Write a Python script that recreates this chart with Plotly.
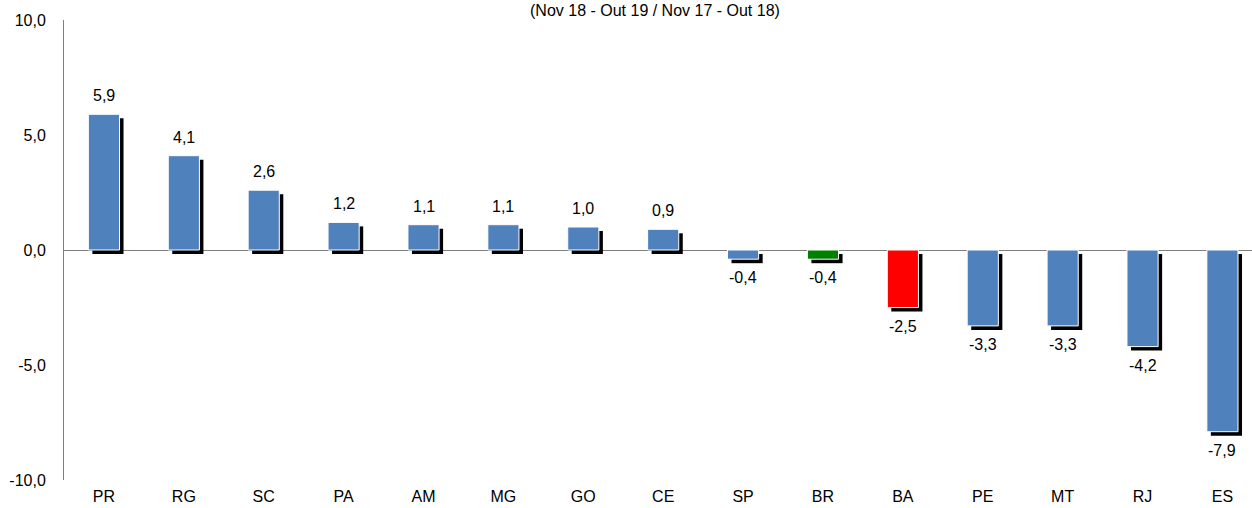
import plotly.graph_objects as go

# Variação por UF
states = ["PR", "RG", "SC", "PA", "AM", "MG", "GO", "CE", "SP", "BR", "BA", "PE", "MT", "RJ", "ES"]
values = [5.9, 4.1, 2.6, 1.2, 1.1, 1.1, 1.0, 0.9, -0.4, -0.4, -2.5, -3.3, -3.3, -4.2, -7.9]
colors = ["#4F81BD"] * 8 + ["#4F81BD", "#008000", "#FF0000"] + ["#4F81BD"] * 4
subtitle = "(Nov 18 - Out 19 / Nov 17 - Out 18)"
y_ticks = [-10, -5, 0, 5, 10]
y_ticktext = ["-10,0", "-5,0", "0,0", "5,0", "10,0"]

W, H = 1252, 508
M_L, M_R, M_T, M_B = 64, 0, 20, 28
Y_MIN, Y_MAX = -10, 10
X_MIN, X_MAX = -0.5, 14.37
BAR_W = 0.39

plot_h = H - M_T - M_B
plot_w = W - M_L - M_R
px_y = plot_h / (Y_MAX - Y_MIN)
px_x = plot_w / (X_MAX - X_MIN)
shadow_px = 4
dy = shadow_px / px_y
dx = shadow_px / px_x

FONT = "Liberation Sans, Arial, sans-serif"

fig = go.Figure()

# drop shadow behind each bar
fig.add_trace(go.Bar(
    x=states, y=values, base=[-dy] * len(values),
    width=BAR_W, offset=-BAR_W / 2 + dx,
    marker=dict(color="black", line=dict(width=0)),
    hoverinfo="skip", showlegend=False,
))
fig.add_trace(go.Bar(
    x=states, y=values,
    width=BAR_W, offset=-BAR_W / 2,
    marker=dict(color=colors, line=dict(color="white", width=1)),
    showlegend=False,
))

for s, v in zip(states, values):
    label = f"{v:.1f}".replace(".", ",")
    if v >= 0:
        fig.add_annotation(x=s, y=v, text=label, showarrow=False,
                           yanchor="bottom", yshift=8)
    else:
        fig.add_annotation(x=s, y=v, text=label, showarrow=False,
                           yanchor="top", yshift=-8)

fig.add_annotation(xref="paper", yref="paper", x=0.4975, y=1, text=subtitle,
                   showarrow=False, yanchor="top", yshift=M_T,
                   font=dict(size=16, color="#000"))

fig.update_layout(
    width=W, height=H,
    margin=dict(l=M_L, r=M_R, t=M_T, b=M_B, pad=0, autoexpand=False),
    paper_bgcolor="white", plot_bgcolor="white",
    barmode="overlay",
    font=dict(family=FONT, size=16, color="#000"),
    xaxis=dict(range=[X_MIN, X_MAX], showgrid=False, showline=False,
               zeroline=False, ticks="", tickfont=dict(size=16),
               ticklabelstandoff=5, automargin=False),
    yaxis=dict(range=[Y_MIN, Y_MAX], tickvals=y_ticks, ticktext=y_ticktext,
               showgrid=False, zeroline=True, zerolinecolor="#808080",
               zerolinewidth=1, showline=True, linecolor="#808080",
               linewidth=1, ticks="", ticklen=0, tickfont=dict(size=16),
               ticklabelstandoff=14, automargin=False),
)

fig.write_html("out.html")
